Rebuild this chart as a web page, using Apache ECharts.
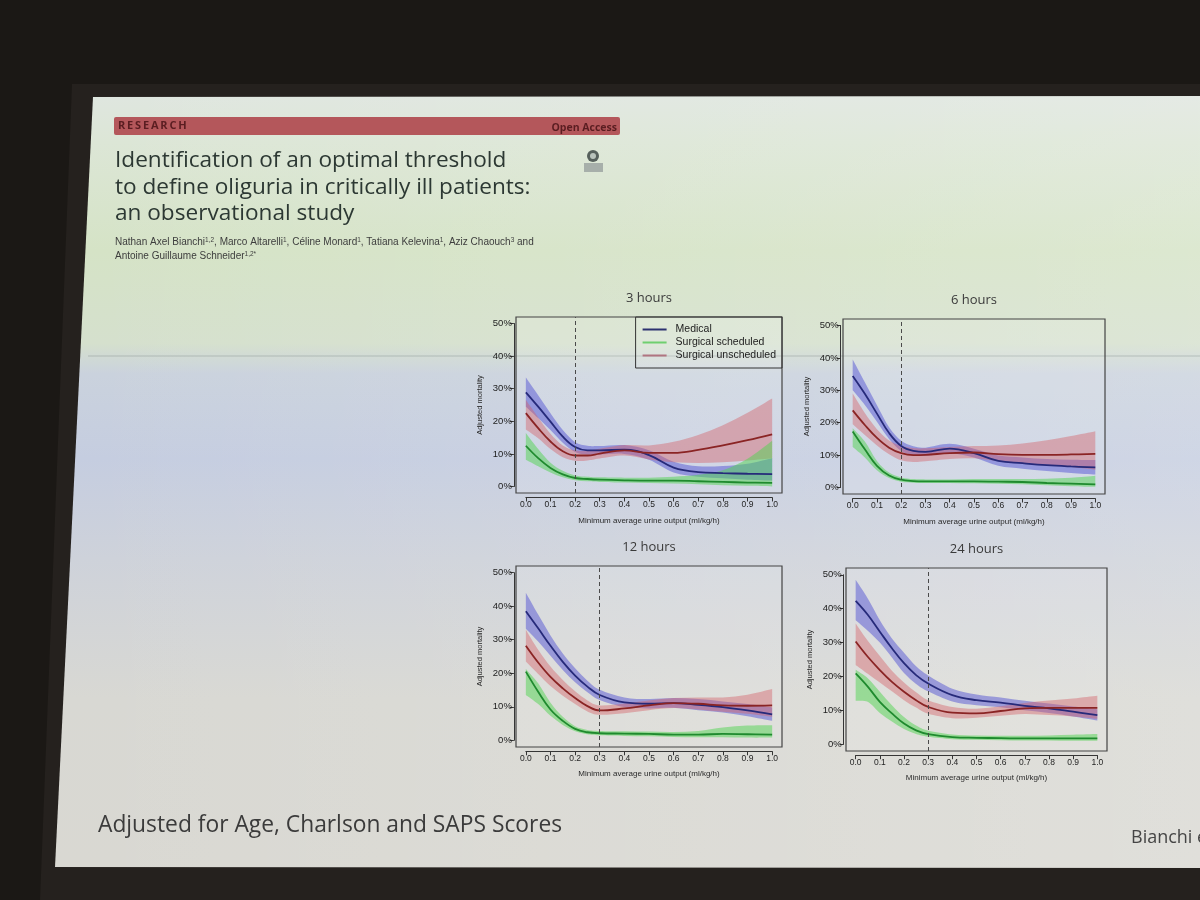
<!DOCTYPE html>
<html>
<head>
<meta charset="utf-8">
<title>Optimal threshold to define oliguria</title>
<script src="https://cdn.jsdelivr.net/npm/echarts@6/dist/echarts.min.js"></script>
<style>
html, body { margin: 0; padding: 0; background: #1b1815; }
#main { width: 1200px; height: 900px; }
</style>
</head>
<body>
<div id="main"></div>
<script>
var urineOutput = [0, 0.05, 0.1, 0.15, 0.2, 0.25, 0.3, 0.4, 0.5, 0.6, 0.7, 0.8, 0.9, 1.0];
var groups = ['Medical', 'Surgical scheduled', 'Surgical unscheduled'];
var panelTitles = ['3 hours', '6 hours', '12 hours', '24 hours'];
var thresholds = [0.2, 0.2, 0.3, 0.3];
var xTicks = ['0.0', '0.1', '0.2', '0.3', '0.4', '0.5', '0.6', '0.7', '0.8', '0.9', '1.0'];
var yTicks = ['0%', '10%', '20%', '30%', '40%', '50%'];

// adjusted mortality (%) - 3 hours
var med3   = [28.9, 24.5, 19.9, 15.3, 12.1, 11.1, 11.1, 11.3, 9.6, 5.8, 4.4, 4.1, 3.9, 3.8];
var med3Lo = [24.5, 21.0, 17.3, 13.4, 10.6, 9.8, 9.8, 10.0, 8.2, 4.3, 3.0, 2.5, 2.1, 1.8];
var med3Hi = [33.4, 28.0, 22.5, 17.3, 13.6, 12.5, 12.4, 12.7, 11.1, 7.6, 6.2, 6.3, 7.0, 8.7];
var sch3   = [12.5, 8.7, 5.7, 3.7, 2.6, 2.3, 2.1, 1.9, 1.8, 1.8, 1.6, 1.4, 1.2, 1.1];
var sch3Lo = [8.2, 6.2, 4.3, 2.8, 1.9, 1.6, 1.4, 1.2, 1.1, 0.9, 0.7, 0.4, 0.2, 0.0];
var sch3Hi = [16.4, 11.5, 7.3, 4.8, 3.4, 3.0, 2.8, 2.7, 2.7, 3.0, 3.6, 5.0, 8.5, 14.0];
var uns3   = [22.5, 17.9, 13.8, 10.8, 9.5, 9.5, 10.1, 11.1, 10.3, 10.3, 11.2, 12.6, 14.2, 16.0];
var uns3Lo = [17.5, 14.8, 11.5, 9.0, 7.9, 8.0, 8.6, 9.5, 8.3, 7.4, 7.2, 7.4, 8.0, 8.7];
var uns3Hi = [26.5, 21.2, 16.2, 12.6, 11.1, 11.0, 11.6, 12.7, 12.6, 13.7, 15.8, 18.8, 22.6, 27.0];

// 6 hours
var med6   = [34.4, 28.9, 22.8, 16.8, 12.8, 11.3, 11.0, 12.0, 10.6, 8.2, 7.5, 6.9, 6.5, 6.2];
var med6Lo = [30.0, 25.5, 20.3, 15.0, 11.3, 10.0, 9.8, 10.6, 9.3, 6.7, 5.8, 5.1, 4.5, 4.0];
var med6Hi = [39.5, 32.5, 25.4, 18.6, 14.4, 12.7, 12.3, 13.5, 12.0, 9.9, 9.3, 8.8, 8.6, 8.5];
var sch6   = [17.3, 11.8, 6.7, 3.7, 2.4, 2.0, 1.9, 1.9, 1.9, 1.8, 1.7, 1.4, 1.2, 1.0];
var sch6Lo = [12.5, 9.3, 5.3, 2.9, 1.8, 1.5, 1.4, 1.4, 1.3, 1.2, 1.0, 0.7, 0.4, 0.2];
var sch6Hi = [18.3, 14.2, 8.2, 4.6, 3.1, 2.6, 2.5, 2.5, 2.6, 2.6, 2.6, 2.7, 3.0, 3.6];
var uns6   = [23.8, 19.3, 15.3, 12.3, 10.6, 10.0, 10.1, 10.6, 10.8, 10.3, 10.1, 10.1, 10.2, 10.4];
var uns6Lo = [19.5, 16.2, 13.0, 10.3, 8.4, 7.9, 8.1, 8.8, 9.0, 8.2, 7.6, 7.0, 6.3, 5.5];
var uns6Hi = [29.0, 23.0, 18.0, 14.5, 12.8, 12.2, 12.1, 12.5, 12.8, 13.0, 13.6, 14.6, 15.9, 17.4];

// 12 hours
var med12   = [38.5, 33.4, 28.2, 23.4, 19.3, 16.0, 13.5, 11.3, 10.9, 11.1, 10.6, 9.9, 8.9, 7.7];
var med12Lo = [33.3, 29.5, 25.2, 21.0, 17.3, 14.3, 12.0, 9.9, 9.5, 9.7, 9.0, 8.3, 7.2, 5.8];
var med12Hi = [44.0, 37.5, 31.3, 25.9, 21.5, 17.8, 15.1, 12.8, 12.3, 12.6, 12.3, 11.6, 10.8, 9.8];
var sch12   = [20.5, 14.5, 9.2, 5.8, 3.4, 2.4, 2.1, 2.0, 1.9, 1.7, 1.7, 1.9, 1.8, 1.7];
var sch12Lo = [13.5, 10.8, 7.3, 4.6, 2.7, 1.8, 1.5, 1.3, 1.2, 1.0, 0.9, 0.9, 0.8, 0.8];
var sch12Hi = [21.3, 17.0, 11.2, 7.0, 4.2, 3.1, 2.8, 2.7, 2.6, 2.5, 2.8, 3.8, 4.4, 4.5];
var uns12   = [28.2, 23.2, 18.9, 15.5, 12.6, 10.2, 8.9, 9.5, 10.4, 11.1, 10.9, 10.4, 10.3, 10.4];
var uns12Lo = [23.5, 19.8, 16.2, 13.3, 10.8, 8.6, 7.6, 8.1, 9.0, 9.6, 9.2, 8.5, 7.9, 7.0];
var uns12Hi = [33.0, 27.0, 22.0, 18.0, 14.6, 11.9, 10.4, 11.0, 11.9, 12.6, 12.8, 12.8, 13.6, 15.3];

// 24 hours
var med24   = [42.3, 38.2, 33.2, 28.3, 23.9, 20.4, 17.9, 14.5, 13.0, 12.3, 11.3, 10.6, 9.6, 8.6];
var med24Lo = [36.6, 33.5, 30.0, 25.6, 21.0, 17.8, 15.6, 12.6, 11.5, 10.9, 10.0, 9.2, 8.2, 7.0];
var med24Hi = [48.5, 43.0, 36.6, 31.2, 27.0, 23.0, 20.3, 16.4, 14.7, 13.8, 12.8, 12.0, 11.1, 10.3];
var sch24   = [20.9, 17.0, 12.5, 9.1, 6.1, 4.1, 3.0, 2.1, 1.9, 1.8, 1.7, 1.7, 1.7, 1.7];
var sch24Lo = [12.8, 12.5, 9.2, 6.7, 4.5, 3.0, 2.2, 1.5, 1.3, 1.2, 1.1, 1.1, 1.0, 1.0];
var sch24Hi = [22.0, 19.5, 15.5, 11.5, 8.0, 5.5, 4.0, 2.9, 2.6, 2.5, 2.5, 2.6, 2.8, 3.0];
var uns24   = [30.3, 25.8, 21.9, 18.4, 15.5, 13.0, 11.0, 9.3, 9.1, 9.8, 10.6, 10.7, 10.7, 10.7];
var uns24Lo = [23.4, 20.8, 18.2, 15.6, 13.0, 10.8, 9.0, 7.7, 7.8, 8.4, 8.9, 8.6, 8.2, 7.5];
var uns24Hi = [35.6, 30.5, 26.0, 21.7, 18.2, 15.3, 13.0, 11.0, 10.5, 11.2, 12.2, 12.9, 13.5, 14.3];

var lineColors = ['#262a7a', '#1f8a2e', '#8a2424'];
var bandColors = ['rgba(84,84,212,0.5)', 'rgba(80,212,80,0.5)', 'rgba(212,92,100,0.42)'];
var legendColors = ['#2c3170', '#6fcf6f', '#b07580'];

// plot boxes in the photo (left, top, width, height)
var panels = [
    { box: [516, 317, 266, 176], groups: [[med3Lo, med3, med3Hi], [sch3Lo, sch3, sch3Hi], [uns3Lo, uns3, uns3Hi]] },
    { box: [843, 319, 262, 175], groups: [[med6Lo, med6, med6Hi], [sch6Lo, sch6, sch6Hi], [uns6Lo, uns6, uns6Hi]] },
    { box: [516, 566, 266, 181], groups: [[med12Lo, med12, med12Hi], [sch12Lo, sch12, sch12Hi], [uns12Lo, uns12, uns12Hi]] },
    { box: [846, 568, 261, 183], groups: [[med24Lo, med24, med24Hi], [sch24Lo, sch24, sch24Hi], [uns24Lo, uns24, uns24Hi]] }
];

function pairs(ys) {
    return urineOutput.map(function (x, i) { return [x, ys[i]]; });
}

// smooth path through pixel points (Catmull-Rom as cubic beziers)
function spline(p) {
    var s = '';
    for (var i = 0; i < p.length - 1; i++) {
        var p0 = p[i - 1] || p[i], p1 = p[i], p2 = p[i + 1], p3 = p[i + 2] || p2;
        var c1x = p1[0] + (p2[0] - p0[0]) / 6, c1y = p1[1] + (p2[1] - p0[1]) / 6;
        var c2x = p2[0] - (p3[0] - p1[0]) / 6, c2y = p2[1] - (p3[1] - p1[1]) / 6;
        s += ' C' + [c1x, c1y, c2x, c2y, p2[0], p2[1]].map(function (v) { return v.toFixed(2); }).join(' ');
    }
    return s;
}

function bandRenderer(lo, hi, color) {
    return function (params, api) {
        if (params.dataIndex !== 0) return null;
        var up = urineOutput.map(function (x, i) { return api.coord([x, hi[i]]); });
        var dn = urineOutput.map(function (x, i) { return api.coord([x, lo[i]]); }).reverse();
        var d = 'M' + up[0][0].toFixed(2) + ' ' + up[0][1].toFixed(2) + spline(up) +
            ' L' + dn[0][0].toFixed(2) + ' ' + dn[0][1].toFixed(2) + spline(dn) + ' Z';
        return { type: 'path', shape: { pathData: d }, style: { fill: color } };
    };
}

var grids = [], xAxes = [], yAxes = [], series = [], texts = [];
var axisColor = '#353535';

panels.forEach(function (p, k) {
    var l = p.box[0], t = p.box[1], w = p.box[2], h = p.box[3];
    // outer box, R style 4% padding around data range
    grids.push({ left: l, top: t, width: w, height: h, show: true,
        borderColor: '#444', borderWidth: 1.2, backgroundColor: 'rgba(255,255,255,0.10)' });
    // inner grid only carries the visible axes (0..1, 0..50%)
    grids.push({ left: l + w * 0.04 / 1.08, top: t + h * 2 / 54, width: w / 1.08, height: h * 50 / 54, show: false });

    xAxes.push({ gridIndex: 2 * k, type: 'value', min: -0.04, max: 1.04, show: false });
    yAxes.push({ gridIndex: 2 * k, type: 'value', min: -2, max: 52, show: false });
    xAxes.push({
        gridIndex: 2 * k + 1, type: 'value', min: 0, max: 1, interval: 0.1, offset: 11,
        axisLine: { show: true, onZero: false, lineStyle: { color: axisColor, width: 1 } },
        axisTick: { show: true, length: 4, lineStyle: { color: axisColor } },
        axisLabel: { color: '#242424', fontSize: 8.5, margin: 3, fontFamily: 'Liberation Sans',
            formatter: function (v) { return xTicks[Math.round(v * 10)]; } },
        splitLine: { show: false },
        name: 'Minimum average urine output (ml/kg/h)', nameLocation: 'middle', nameGap: 19,
        nameTextStyle: { fontSize: 8, color: '#2a2a2a', fontFamily: 'Liberation Sans' }
    });
    yAxes.push({
        gridIndex: 2 * k + 1, type: 'value', min: 0, max: 50, interval: 10, offset: 12,
        axisLine: { show: true, onZero: false, lineStyle: { color: axisColor, width: 1 } },
        axisTick: { show: true, length: 4, lineStyle: { color: axisColor } },
        axisLabel: { color: '#222', fontSize: 9.5, margin: 2, fontFamily: 'Liberation Sans',
            formatter: function (v) { return yTicks[Math.round(v / 10)]; } },
        splitLine: { show: false },
        name: 'Adjusted mortality', nameLocation: 'middle', nameGap: 30, nameRotate: 90,
        nameTextStyle: { fontSize: 7.5, color: '#2a2a2a', fontFamily: 'Liberation Sans' }
    });

    // confidence bands: medical, unscheduled, scheduled
    [0, 2, 1].forEach(function (g) {
        var lo = p.groups[g][0], hi = p.groups[g][2];
        series.push({ type: 'custom', name: 'band' + k + g, coordinateSystem: 'cartesian2d',
            xAxisIndex: 2 * k, yAxisIndex: 2 * k, silent: true, z: 2,
            data: urineOutput.map(function (x, i) { return [x, lo[i], hi[i]]; }),
            encode: { x: 0, y: [1, 2] },
            renderItem: bandRenderer(lo, hi, bandColors[g]) });
    });

    // estimated curves
    [0, 2, 1].forEach(function (g, j) {
        var s = { type: 'line', name: groups[g], xAxisIndex: 2 * k, yAxisIndex: 2 * k,
            data: pairs(p.groups[g][1]), smooth: 0.4, symbol: 'none', z: 4,
            lineStyle: { color: lineColors[g], width: 1.8 }, itemStyle: { color: lineColors[g] } };
        if (j === 0) {
            s.markLine = { silent: true, symbol: ['none', 'none'], label: { show: false },
                lineStyle: { type: [4, 3], color: '#4a4a4a', width: 1 },
                data: [{ xAxis: thresholds[k] }] };
        }
        series.push(s);
    });

    texts.push({ type: 'text', x: l + w / 2, y: t - 19,
        style: { text: panelTitles[k], fill: '#3a3a3a', font: '13px "Open Sans"', textAlign: 'center', textVerticalAlign: 'middle' } });
});

var slideFill = {
    type: 'linear', x: 0, y: 0, x2: 0, y2: 1,
    colorStops: [
        { offset: 0, color: '#dfe6df' },
        { offset: 0.06, color: '#dce6d6' },
        { offset: 0.2, color: '#d5e3c6' },
        { offset: 0.32, color: '#d5e0cd' },
        { offset: 0.36, color: '#cad2dd' },
        { offset: 0.47, color: '#c5cde0' },
        { offset: 0.6, color: '#ced2da' },
        { offset: 0.78, color: '#d8d8d3' },
        { offset: 1, color: '#d9d8d2' }
    ]
};
var authorRich = {
    n: { fill: '#3d3d3d', font: '10px "Liberation Sans"' },
    s: { fill: '#3d3d3d', font: '6.5px "Liberation Sans"', verticalAlign: 'top' }
};

var decor = [
    { type: 'polygon', z: -20, shape: { points: [[72, 84], [1200, 84], [1200, 900], [40, 900]] }, style: { fill: '#25211e' } },
    { type: 'polygon', z: -10, shape: { points: [[93, 97], [1200, 96], [1200, 868], [55, 867]] }, style: { fill: slideFill } },
    { type: 'polygon', z: -9, shape: { points: [[93, 97], [1200, 96], [1200, 868], [55, 867]] },
        style: { fill: { type: 'linear', x: 0, y: 0, x2: 1, y2: 0,
            colorStops: [{ offset: 0, color: 'rgba(255,255,255,0)' }, { offset: 1, color: 'rgba(255,255,255,0.18)' }] } } },
    { type: 'line', z: -8, shape: { x1: 88, y1: 356, x2: 1200, y2: 356 }, style: { stroke: 'rgba(110,120,120,0.35)', lineWidth: 1.2 } },
    // header bar
    { type: 'rect', shape: { x: 114, y: 117, width: 506, height: 18, r: 2 }, style: { fill: '#b4575b' } },
    { type: 'text', x: 118, y: 126, style: { text: 'R\u2009E\u2009S\u2009E\u2009A\u2009R\u2009C\u2009H', fill: '#5a1d21', font: 'bold 11px "Open Sans"', textVerticalAlign: 'middle' } },
    { type: 'text', x: 617, y: 128, style: { text: 'Open Access', fill: '#5a1d21', font: 'bold 10.5px "Open Sans"', textAlign: 'right', textVerticalAlign: 'middle' } },
    // crossmark badge
    { type: 'circle', shape: { cx: 593, cy: 156, r: 6 }, style: { fill: '#56605c' } },
    { type: 'circle', shape: { cx: 593, cy: 156, r: 3 }, style: { fill: '#b9c3bc' } },
    { type: 'rect', shape: { x: 584, y: 163, width: 19, height: 9 }, style: { fill: '#a7afaa' } },
    // article title
    { type: 'text', x: 115, y: 161, style: { text: 'Identification of an optimal threshold', fill: '#2c3833', font: '22.6px "Open Sans"', textVerticalAlign: 'middle' } },
    { type: 'text', x: 115, y: 188, style: { text: 'to define oliguria in critically ill patients:', fill: '#2c3833', font: '22.6px "Open Sans"', textVerticalAlign: 'middle' } },
    { type: 'text', x: 115, y: 214, style: { text: 'an observational study', fill: '#2c3833', font: '22.6px "Open Sans"', textVerticalAlign: 'middle' } },
    { type: 'text', x: 115, y: 242, style: {
        text: '{n|Nathan Axel Bianchi}{s|1,2}{n|, Marco Altarelli}{s|1}{n|, Céline Monard}{s|1}{n|, Tatiana Kelevina}{s|1}{n|, Aziz Chaouch}{s|3}{n| and}',
        textVerticalAlign: 'middle', rich: authorRich } },
    { type: 'text', x: 115, y: 256, style: {
        text: '{n|Antoine Guillaume Schneider}{s|1,2*}', textVerticalAlign: 'middle', rich: authorRich } },
    // footer
    { type: 'text', x: 98, y: 826, style: { text: 'Adjusted for Age, Charlson and SAPS Scores', fill: '#3b3b3b', font: '22.8px "Open Sans"', textVerticalAlign: 'middle' } },
    { type: 'text', x: 1131, y: 838, style: { text: 'Bianchi et al.', fill: '#454545', font: '18px "Open Sans"', textVerticalAlign: 'middle' } }
];

var chart = echarts.init(document.getElementById('main'));
chart.setOption({
    backgroundColor: '#1b1815',
    animation: false,
    grid: grids,
    xAxis: xAxes,
    yAxis: yAxes,
    legend: {
        data: groups.map(function (g, i) {
            return { name: g, icon: 'rect', itemStyle: { color: legendColors[i] } };
        }),
        orient: 'vertical', right: 418, top: 317, itemWidth: 24, itemHeight: 2, itemGap: 2,
        padding: [7, 6, 7, 7], borderColor: '#333', borderWidth: 1, borderRadius: 0,
        backgroundColor: 'rgba(255,255,255,0.08)',
        textStyle: { fontSize: 10.5, color: '#222', fontFamily: 'Liberation Sans', padding: [0, 0, 0, 4] },
        selectedMode: false
    },
    graphic: { elements: decor.concat(texts) },
    series: series
});
</script>
</body>
</html>
